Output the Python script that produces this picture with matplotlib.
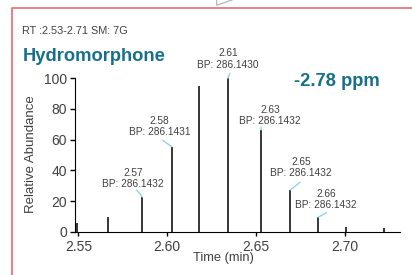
import matplotlib.pyplot as plt
from matplotlib.lines import Line2D

plt.rcParams['font.family'] = ['Liberation Sans', 'DejaVu Sans']

# scan times (min) and relative abundance of each scan
times = [2.5494, 2.5665, 2.5860, 2.6025, 2.6181, 2.6340, 2.6528, 2.6692, 2.6848, 2.7003, 2.7219]
abund = [5.9, 9.4, 22.6, 55.4, 95.2, 100, 66.3, 27.2, 9.4, 3.3, 2.2]

# labelled scans
lab_idx = [2, 3, 5, 6, 7, 8]
lab_rt = ['2.57', '2.58', '2.61', '2.63', '2.65', '2.66']
lab_bp = ['286.1432', '286.1431', '286.1430', '286.1432', '286.1432', '286.1432']

xticks = [2.55, 2.60, 2.65, 2.70]
yticks = [0, 20, 40, 60, 80, 100]

# label placement (pixels from peak top)
text_off = [(-9.3, 18.8), (-12.4, 20), (0.3, 19.3), (8.7, 14.1), (10.5, 22.8), (8.2, 17.6)]
line_off = [(-5.6, 7), (-9, 6.4), (2.3, 5), (0, 3), (9.7, 7.6), (8.4, 4.6)]

teal = '#17708a'
grey = '#404040'
cyan = '#8fd3e3'

fig = plt.figure(figsize=(4.12, 2.75), dpi=100)
W, H = 412, 275
ax = fig.add_axes([75 / W, 1 - 231.7 / H, 325 / W, (231.7 - 76) / H])

ax.vlines(times, 0, abund, color='black', lw=1.1)

for i, rt, bp, to, lo in zip(lab_idx, lab_rt, lab_bp, text_off, line_off):
    ax.annotate('', xy=(times[i], abund[i]), xytext=lo, textcoords='offset pixels',
                arrowprops=dict(arrowstyle='-', color=cyan, lw=1, shrinkA=0, shrinkB=0))
    ax.annotate(rt + '\nBP: ' + bp, xy=(times[i], abund[i]), xytext=to,
                textcoords='offset pixels', ha='center', va='center',
                fontsize=7.3, color=grey, linespacing=1.15)

ax.set_xlim(2.5481, 2.7309)
ax.set_ylim(0, 101.5)
ax.set_xticks(xticks)
ax.set_xticklabels(['%.2f' % t for t in xticks])
ax.set_yticks(yticks)
ax.spines['top'].set_visible(False)
ax.spines['right'].set_visible(False)
ax.spines['left'].set_bounds(0, 100)
ax.tick_params(axis='x', direction='out', length=3, width=1, pad=3, labelsize=10, labelcolor=grey)
ax.tick_params(axis='y', direction='out', length=3.6, width=1, pad=2, labelsize=10, labelcolor=grey)

ax.set_xlabel('Time (min)', fontsize=9.3, color=grey, va='center')
ax.xaxis.set_label_coords(148 / 325, (231.7 - 257.5) / (231.7 - 76))
ax.set_ylabel('Relative Abundance', fontsize=9.5, color=grey, va='center')
ax.yaxis.set_label_coords((31 - 75) / 325, 0.5)

fig.text(21.7 / W, 1 - 34 / H, 'RT :2.53-2.71 SM: 7G', fontsize=7.8, color=grey, va='baseline')
fig.text(22.7 / W, 1 - 61 / H, 'Hydromorphone', fontsize=13.2, fontweight='bold',
         color=teal, va='baseline')
fig.text(294.3 / W, 1 - 86 / H, '-2.78 ppm', fontsize=13.2, fontweight='bold',
         color=teal, va='baseline')

# panel frame and the tip of the shape above it
fig.add_artist(Line2D([11.7 / W, 11.7 / W, 1.01], [-0.01, 1 - 8 / H, 1 - 8 / H],
                      color='#e8696b', lw=1.2))
fig.add_artist(Line2D([216.7 / W, 216.7 / W, 232 / W], [1.01, 1 - 5.3 / H, 1.0],
                      color='#b0b0b0', lw=0.8))

fig.savefig('out.png', dpi=100)
